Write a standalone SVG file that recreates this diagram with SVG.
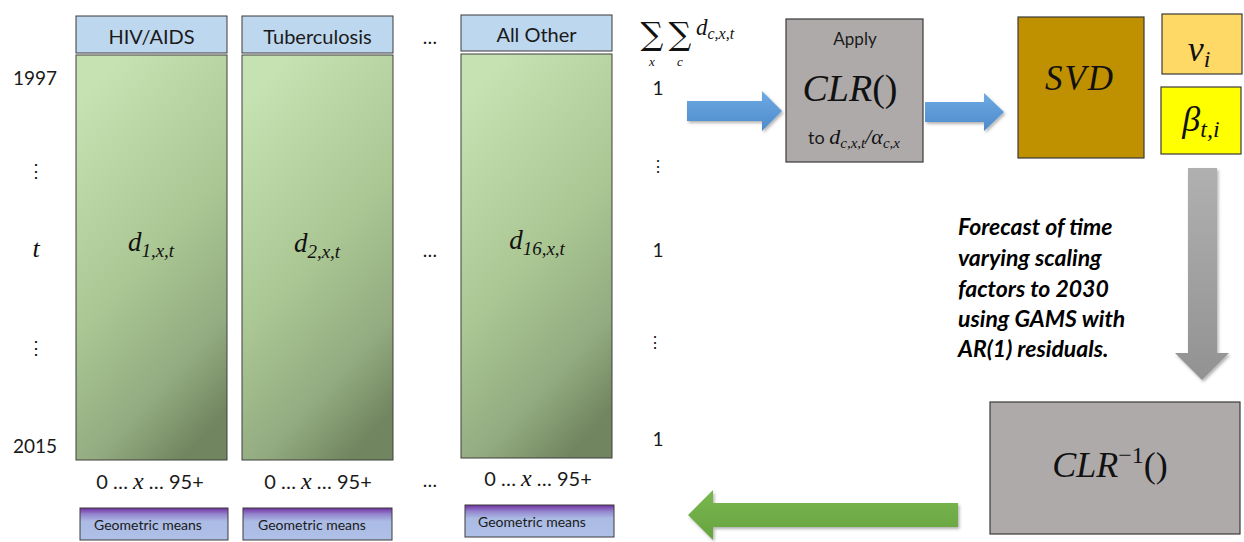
<svg xmlns="http://www.w3.org/2000/svg" width="1244" height="542" viewBox="0 0 1244 542">
  <defs>
    <linearGradient id="cellFill" x1="0.3" y1="0" x2="0.7" y2="1">
      <stop offset="0" stop-color="#c6e2b2"/>
      <stop offset="0.5" stop-color="#aac693"/>
      <stop offset="0.8" stop-color="#93ab80"/>
      <stop offset="1" stop-color="#718560"/>
    </linearGradient>
    <linearGradient id="gmFill" x1="0" y1="0" x2="0" y2="1">
      <stop offset="0" stop-color="#7030a0"/>
      <stop offset="0.2" stop-color="#9486cf"/>
      <stop offset="0.42" stop-color="#abbbe4"/>
      <stop offset="1" stop-color="#afc0e8"/>
    </linearGradient>
    <linearGradient id="blueFill" x1="0" y1="0" x2="0" y2="1">
      <stop offset="0" stop-color="#6eaae3"/>
      <stop offset="1" stop-color="#4d8acb"/>
    </linearGradient>
    <linearGradient id="greenFill" x1="0" y1="0" x2="0" y2="1">
      <stop offset="0" stop-color="#7ab84f"/>
      <stop offset="1" stop-color="#67a23f"/>
    </linearGradient>
    <linearGradient id="grayFill" x1="0" y1="0" x2="0" y2="1">
      <stop offset="0" stop-color="#b0b0b0"/>
      <stop offset="1" stop-color="#929292"/>
    </linearGradient>
    <filter id="shadow" x="-20%" y="-20%" width="140%" height="140%">
      <feDropShadow dx="1.5" dy="2" stdDeviation="1.5" flood-color="#000" flood-opacity="0.3"/>
    </filter>
  </defs>
  <style>
    .hdr { fill: #bdd7ee; stroke: #3a3a3a; stroke-width: 1; }
    .cell { fill: url(#cellFill); stroke: #3f3f3f; stroke-width: 1; }
    .gm { fill: url(#gmFill); stroke: #3a3a3a; stroke-width: 1; }
    .box { stroke: #3a3a3a; stroke-width: 1.2; }
    .sans { font-family: Lato, "Liberation Sans", sans-serif; fill: #1a1a1a; }
    .math { font-family: "Liberation Serif", "DejaVu Serif", serif; font-style: italic; fill: #111; }
    .mathup { font-family: "DejaVu Serif", "Liberation Serif", serif; fill: #111; }
    .hdrtxt { font-size: 20px; text-anchor: middle; }
    .lbl { font-size: 19px; text-anchor: middle; }
    .axis { font-size: 20px; text-anchor: middle; }
    .gmtxt { font-size: 14px; text-anchor: middle; }
    .note { font-family: Lato, "Liberation Sans", sans-serif; font-weight: bold; font-style: italic; font-size: 23px; fill: #000; }
  </style>

  <rect width="1244" height="542" fill="#fff"/>

  <!-- row labels (years) -->
  <g id="row-labels">
    <text class="sans lbl" x="35" y="85">1997</text>
    <text class="mathup" x="36" y="177" font-size="18" text-anchor="middle">⋮</text>
    <text class="math" x="36" y="257" font-size="26" text-anchor="middle">t</text>
    <text class="mathup" x="36" y="354" font-size="18" text-anchor="middle">⋮</text>
    <text class="sans lbl" x="35" y="453">2015</text>
  </g>

  <!-- cause: HIV/AIDS -->
  <g id="cause-hiv">
    <rect class="hdr" x="76" y="16" width="151" height="37"/>
    <text class="sans hdrtxt" x="151.5" y="44">HIV/AIDS</text>
    <rect class="cell" x="76" y="55" width="151" height="405"/>
    <text class="math" x="151" y="251" font-size="27" text-anchor="middle">d<tspan font-size="19" dy="6">1,x,t</tspan></text>
    <text class="sans axis" x="150" y="489">0 … <tspan class="math" font-size="24">x</tspan> … 95+</text>
    <rect class="gm" x="80" y="508" width="148" height="32"/>
    <text class="sans gmtxt" x="148" y="530">Geometric means</text>
  </g>

  <!-- cause: Tuberculosis -->
  <g id="cause-tb">
    <rect class="hdr" x="242" y="16" width="151" height="37"/>
    <text class="sans hdrtxt" x="317.5" y="44">Tuberculosis</text>
    <rect class="cell" x="242" y="55" width="151" height="405"/>
    <text class="math" x="317" y="252" font-size="27" text-anchor="middle">d<tspan font-size="19" dy="6">2,x,t</tspan></text>
    <text class="sans axis" x="318" y="489">0 … <tspan class="math" font-size="24">x</tspan> … 95+</text>
    <rect class="gm" x="243" y="508" width="149" height="32"/>
    <text class="sans gmtxt" x="312" y="530">Geometric means</text>
  </g>

  <!-- elided causes -->
  <g id="ellipsis">
    <text class="sans lbl" x="430" y="44">…</text>
    <text class="sans lbl" x="430" y="257">…</text>
    <text class="sans lbl" x="430" y="487">…</text>
  </g>

  <!-- cause: All Other -->
  <g id="cause-other">
    <rect class="hdr" x="461" y="15" width="151" height="36"/>
    <text class="sans hdrtxt" x="536.5" y="42">All Other</text>
    <rect class="cell" x="461" y="54" width="151" height="404"/>
    <text class="math" x="537" y="249" font-size="27" text-anchor="middle">d<tspan font-size="19" dy="6">16,x,t</tspan></text>
    <text class="sans axis" x="538" y="486">0 … <tspan class="math" font-size="24">x</tspan> … 95+</text>
    <rect class="gm" x="465" y="505" width="149" height="32"/>
    <text class="sans gmtxt" x="532" y="527">Geometric means</text>
  </g>

  <!-- row totals -->
  <g id="totals">
    <text class="mathup" x="652" y="45" font-size="32" text-anchor="middle">∑</text>
    <text class="mathup" x="680" y="45" font-size="32" text-anchor="middle">∑</text>
    <text class="math" x="652" y="66" font-size="13" text-anchor="middle">x</text>
    <text class="math" x="680" y="66" font-size="13" text-anchor="middle">c</text>
    <text class="math" x="696" y="35" font-size="23">d<tspan font-size="16" dy="4">c,x,t</tspan></text>
    <text class="sans lbl" x="658" y="95">1</text>
    <text class="mathup" x="658" y="172" font-size="16" text-anchor="middle">⋮</text>
    <text class="sans lbl" x="658" y="257">1</text>
    <text class="mathup" x="655" y="348" font-size="16" text-anchor="middle">⋮</text>
    <text class="sans lbl" x="658" y="446">1</text>
  </g>

  <!-- CLR transform -->
  <g id="clr">
    <rect class="box" x="786" y="19" width="137" height="143" fill="#aeaaaa"/>
    <text class="sans" x="855" y="45" font-size="17" text-anchor="middle">Apply</text>
    <text class="math" x="850" y="101" font-size="38" text-anchor="middle">CLR<tspan font-style="normal">()</tspan></text>
    <text x="854" y="144" text-anchor="middle" font-size="18"><tspan class="sans">to </tspan><tspan class="math" font-size="22">d</tspan><tspan class="math" font-size="15" dy="4">c,x,t</tspan><tspan class="math" font-size="22" dy="-4">/α</tspan><tspan class="math" font-size="15" dy="4">c,x</tspan></text>
  </g>

  <!-- SVD -->
  <g id="svd">
    <rect class="box" x="1018" y="17" width="126" height="141" fill="#bf9000"/>
    <text class="math" x="1080" y="90" font-size="35" text-anchor="middle" letter-spacing="2">SVD</text>
  </g>

  <!-- age loadings -->
  <g id="v-i">
    <rect class="box" x="1162" y="14" width="80" height="60" fill="#ffd966"/>
    <text class="math" x="1199" y="61" font-size="36" text-anchor="middle">v<tspan font-size="24" dy="6">i</tspan></text>
  </g>

  <!-- time scaling factors -->
  <g id="beta">
    <rect class="box" x="1161" y="87" width="80" height="67" fill="#ffff00"/>
    <text class="math" x="1201" y="131" font-size="36" text-anchor="middle">β<tspan font-size="24" dy="6">t,i</tspan></text>
  </g>

  <!-- forecast note -->
  <g id="forecast-note">
    <text class="note" x="958" y="235">Forecast of time</text>
    <text class="note" x="958" y="266">varying scaling</text>
    <text class="note" x="958" y="297">factors to 2030</text>
    <text class="note" x="958" y="327">using GAMS with</text>
    <text class="note" x="958" y="357">AR(1) residuals.</text>
  </g>

  <!-- inverse CLR -->
  <g id="clr-inverse">
    <rect class="box" x="990" y="402" width="250" height="132" fill="#aeaaaa"/>
    <text class="math" x="1110" y="477" font-size="36" text-anchor="middle">CLR<tspan font-style="normal" font-size="24" dy="-14">−1</tspan><tspan font-style="normal" dy="14">()</tspan></text>
  </g>

  <!-- flow arrows -->
  <g id="connectors" filter="url(#shadow)">
    <path d="M687,101 H762 V91 L782,111 L762,131 V121 H687 Z" fill="url(#blueFill)"/>
    <path d="M925,102 H984 V93 L1004,112 L984,131 V122 H925 Z" fill="url(#blueFill)"/>
    <path d="M1188,168 H1217 V353 H1229 L1202,380 L1175,353 H1188 Z" fill="url(#grayFill)"/>
    <path d="M958,503 V527 H713 V540 L688,515 L713,490 V503 Z" fill="url(#greenFill)"/>
  </g>
</svg>
